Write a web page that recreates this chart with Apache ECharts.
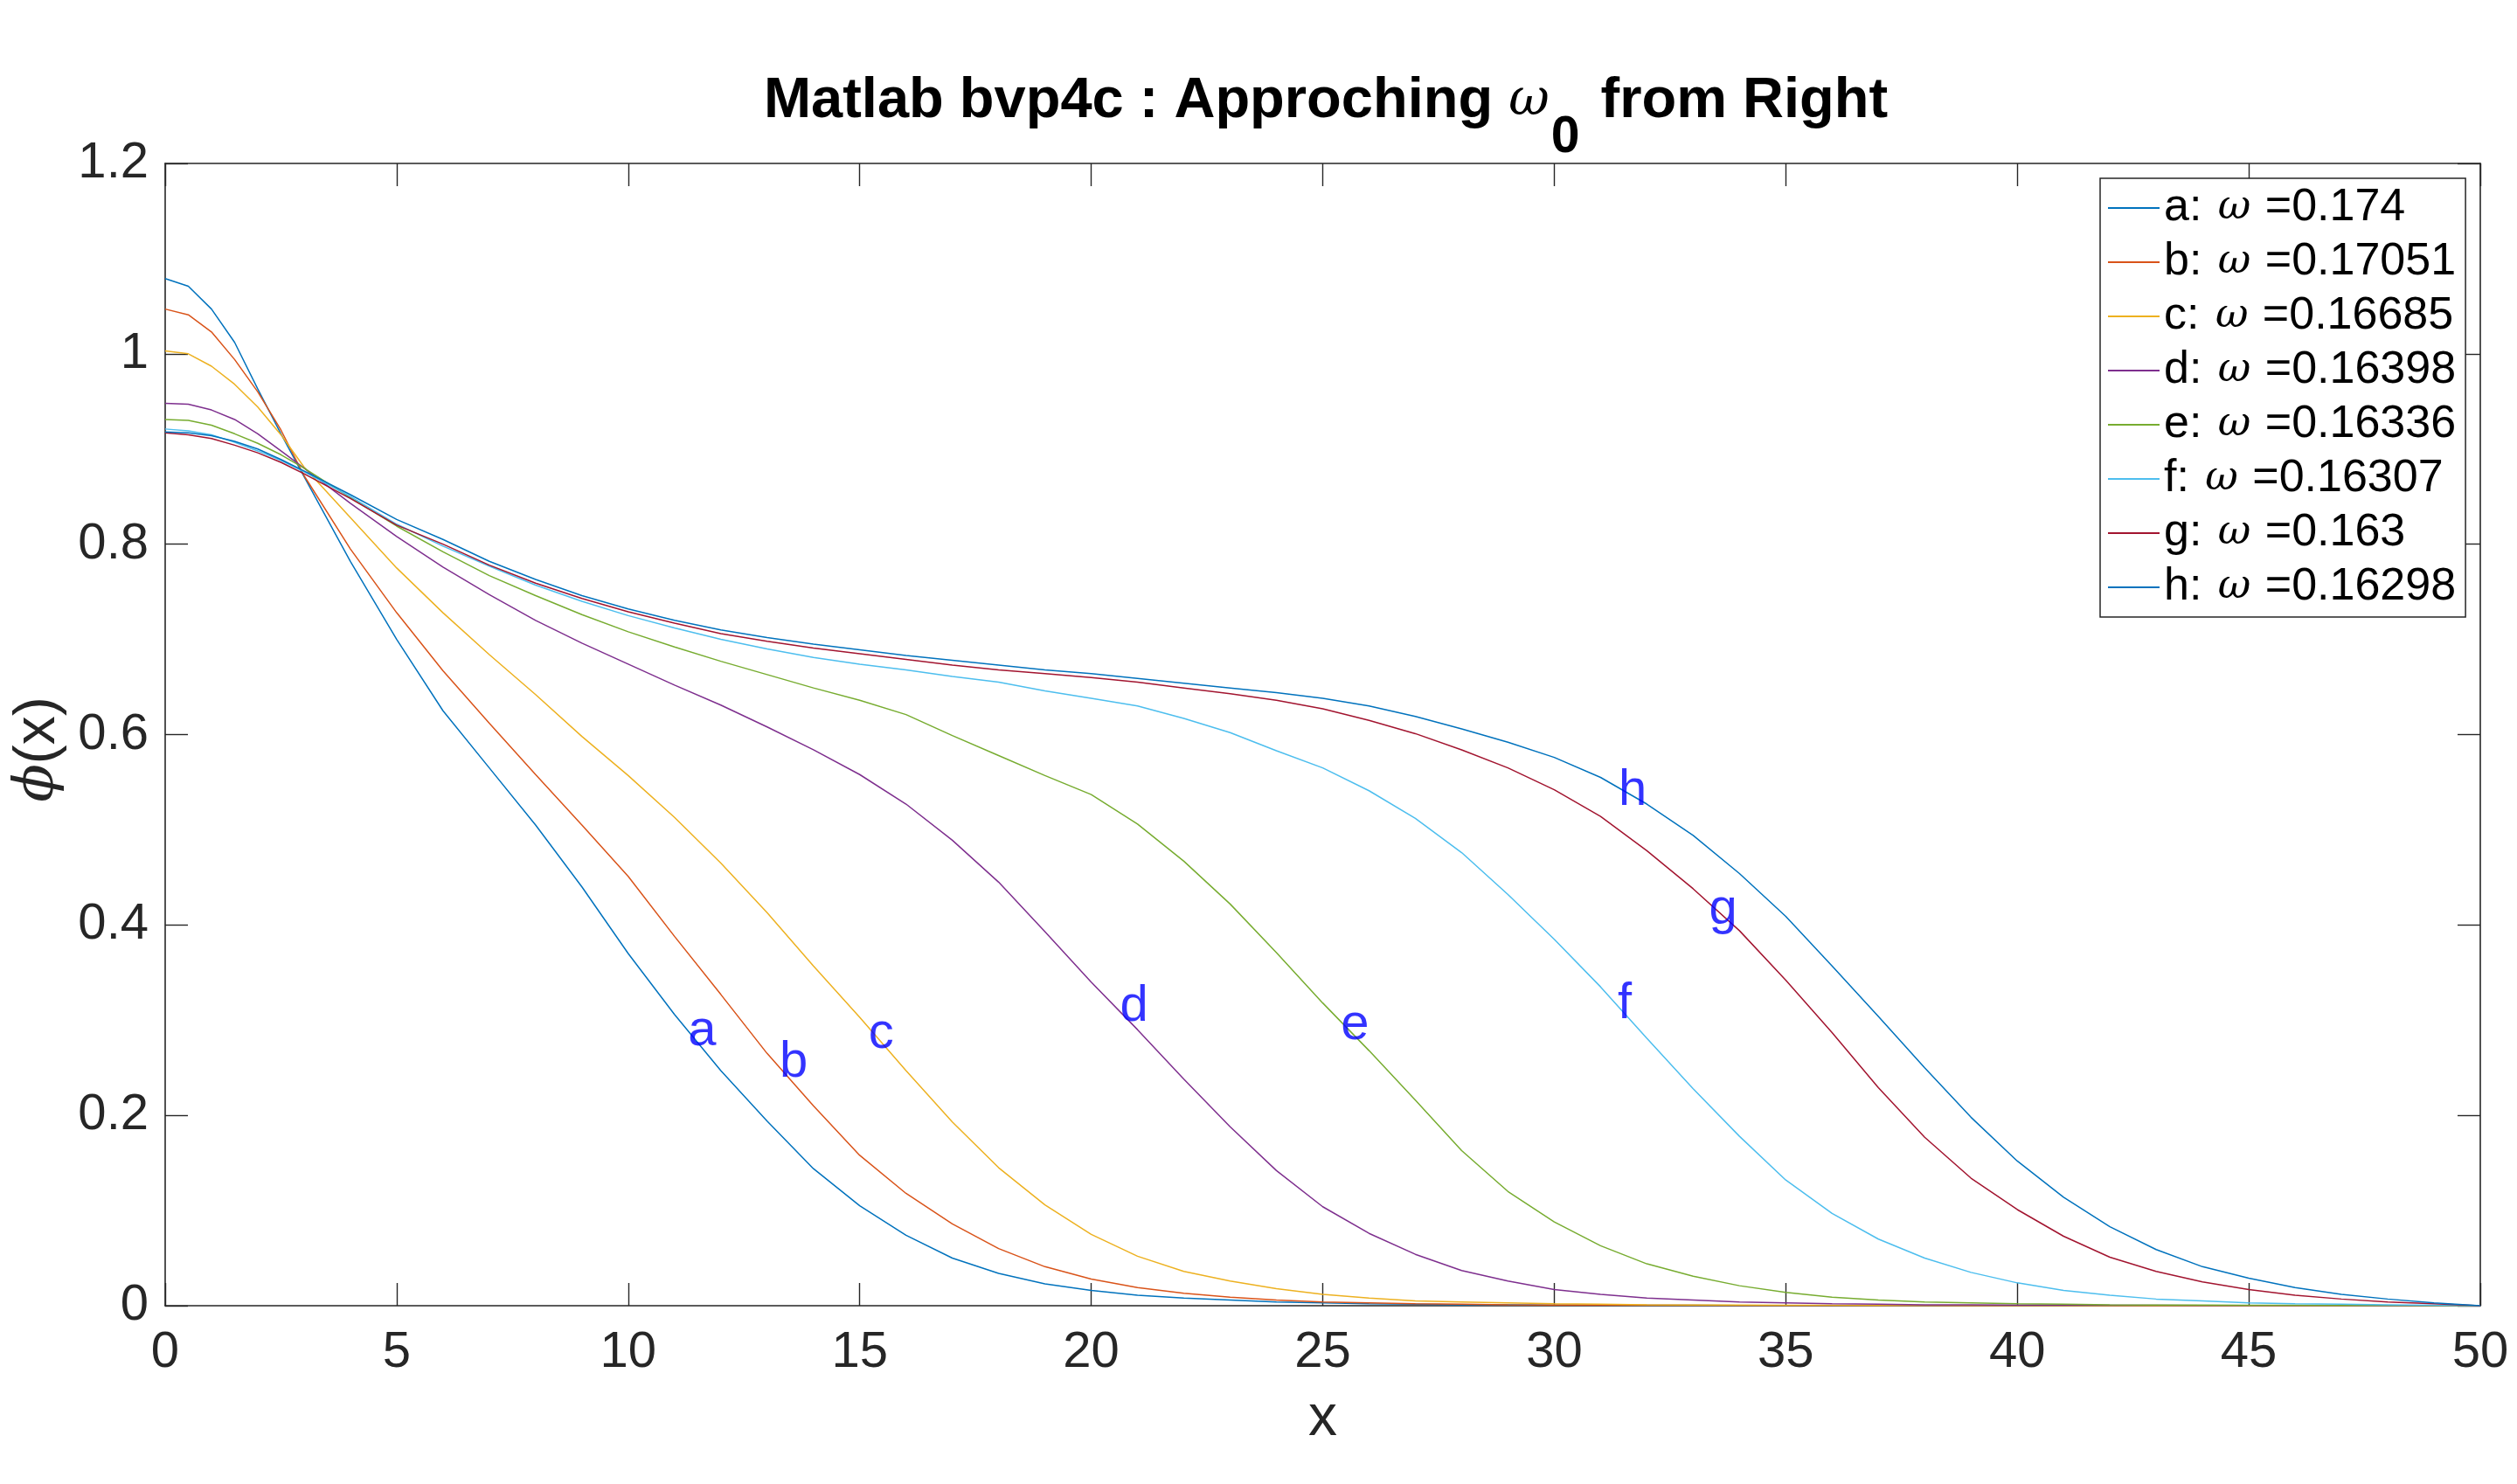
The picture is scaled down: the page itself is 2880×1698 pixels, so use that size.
<!DOCTYPE html>
<html>
<head>
<meta charset="utf-8">
<script src="https://cdn.jsdelivr.net/npm/echarts@6/dist/echarts.min.js"></script>
<style>
html,body{margin:0;padding:0;background:#fff;}
#chart{width:2880px;height:1698px;}
</style>
</head>
<body>
<div id="chart"></div>
<script>
// ---- data ----
const xValues = [0,0.5,1,1.5,2,2.5,3,4,5,6,7,8,9,10,11,12,13,14,15,16,17,18,19,20,21,22,23,24,25,26,27,28,29,30,31,32,33,34,35,36,37,38,39,40,41,42,43,44,45,46,47,48,49,50];

const seriesNames = ['a: ω =0.174','b: ω =0.17051','c: ω =0.16685','d: ω =0.16398','e: ω =0.16336','f: ω =0.16307','g: ω =0.163','h: ω =0.16298'];
const seriesColors = ['#0072BD','#D95319','#EDB120','#7E2F8E','#77AC30','#4DBEEE','#A2142F','#0072BD'];

const phiA = [1.079,1.071,1.047,1.012,0.963,0.916,0.871,
 0.782,0.700,0.625,0.565,0.505,0.440,0.370,0.306,0.247,0.194,
 0.144,0.105,0.074,0.050,0.034,0.023,0.016,0.011,0.008,0.006,
 0.004,0.003,0.002,0.0015,0.001,0.001,0.0008,0.0006,0.0005,0.0004,
 0.0003,0.0003,0.0002,0.0002,0.0002,0.0001,0.0001,0.0001,0.0001,0.0001,
 0.0001,0.0001,0.0001,0.0001,0.0001,0.0001,0];
const phiB = [1.047,1.041,1.023,0.994,0.960,0.920,0.872,
 0.795,0.728,0.667,0.612,0.558,0.505,0.451,0.388,0.327,0.265,
 0.210,0.158,0.118,0.086,0.060,0.041,0.028,0.019,0.013,0.009,
 0.006,0.004,0.003,0.002,0.0015,0.001,0.0008,0.0006,0.0005,0.0004,
 0.0003,0.0003,0.0002,0.0002,0.0002,0.0001,0.0001,0.0001,0.0001,0.0001,
 0.0001,0.0001,0.0001,0.0001,0.0001,0.0001,0];
const phiC = [1.003,1.000,0.987,0.968,0.944,0.915,0.881,
 0.828,0.775,0.728,0.684,0.642,0.598,0.557,0.513,0.465,0.413,
 0.357,0.303,0.247,0.193,0.145,0.106,0.075,0.052,0.036,0.026,
 0.018,0.012,0.008,0.005,0.004,0.003,0.002,0.0015,0.001,0.0008,
 0.0006,0.0005,0.0004,0.0003,0.0003,0.0002,0.0002,0.0002,0.0001,0.0001,
 0.0001,0.0001,0.0001,0.0001,0.0001,0.0001,0];
const phiD = [0.948,0.947,0.941,0.931,0.916,0.898,0.880,
 0.843,0.808,0.776,0.747,0.720,0.696,0.674,0.652,0.631,0.608,
 0.584,0.558,0.527,0.489,0.445,0.393,0.340,0.290,0.238,0.188,
 0.142,0.104,0.076,0.054,0.037,0.026,0.017,0.012,0.008,0.006,
 0.004,0.003,0.002,0.0015,0.001,0.001,0.0008,0.0006,0.0005,0.0004,
 0.0003,0.0003,0.0002,0.0002,0.0001,0.0001,0];
const phiE = [0.931,0.930,0.925,0.916,0.906,0.894,0.880,
 0.849,0.819,0.792,0.767,0.746,0.726,0.708,0.692,0.677,0.663,
 0.649,0.636,0.621,0.599,0.578,0.557,0.537,0.506,0.467,0.422,
 0.371,0.318,0.268,0.216,0.163,0.120,0.088,0.063,0.044,0.031,
 0.021,0.014,0.009,0.006,0.004,0.003,0.002,0.0015,0.001,0.0008,
 0.0006,0.0005,0.0004,0.0003,0.0002,0.0001,0];
const phiF = [0.921,0.919,0.915,0.907,0.898,0.888,0.876,
 0.850,0.821,0.798,0.777,0.757,0.740,0.725,0.712,0.700,0.690,
 0.681,0.674,0.668,0.661,0.655,0.646,0.638,0.630,0.617,0.602,
 0.583,0.565,0.541,0.512,0.476,0.432,0.385,0.335,0.281,0.228,
 0.178,0.132,0.097,0.070,0.050,0.035,0.024,0.016,0.011,0.007,
 0.005,0.003,0.002,0.0015,0.001,0.0005,0];
const phiG = [0.917,0.915,0.911,0.904,0.896,0.886,0.874,
 0.848,0.820,0.800,0.778,0.759,0.743,0.729,0.717,0.706,0.698,
 0.691,0.685,0.679,0.673,0.668,0.664,0.660,0.655,0.649,0.643,
 0.636,0.627,0.615,0.601,0.584,0.565,0.542,0.514,0.478,0.438,
 0.394,0.342,0.287,0.229,0.177,0.134,0.101,0.073,0.051,0.036,
 0.025,0.017,0.011,0.007,0.004,0.002,0];
const phiH = [0.918,0.917,0.914,0.908,0.900,0.889,0.877,
 0.852,0.826,0.805,0.782,0.763,0.746,0.732,0.720,0.710,0.702,
 0.695,0.689,0.683,0.678,0.673,0.668,0.664,0.659,0.654,0.649,
 0.644,0.638,0.630,0.619,0.606,0.592,0.576,0.555,0.527,0.494,
 0.454,0.409,0.357,0.304,0.250,0.198,0.152,0.114,0.083,0.059,
 0.041,0.029,0.019,0.012,0.007,0.003,0];

const curveLetters = ['a','b','c','d','e','f','g','h'];
const letterX = [11.3,13.28,15.2,20.63,25.4,31.38,33.35,31.4];
const letterY = [0.288,0.255,0.285,0.314,0.294,0.316,0.415,0.54];

const xTicks = {min:0, max:50, interval:5};
const yTicks = {min:0, max:1.2, interval:0.2};

// ---- chart ----
const FONT = '"Liberation Sans", Arial, Helvetica, sans-serif';
const SERIF = '"DejaVu Serif", "Liberation Serif", serif';
const AX = '#262626';
const allPhi = [phiA,phiB,phiC,phiD,phiE,phiF,phiG,phiH];

const lineSeries = allPhi.map((arr, k) => ({
  name: seriesNames[k],
  type: 'line',
  xAxisIndex: 0, yAxisIndex: 0,
  data: xValues.map((x, i) => [x, arr[i]]),
  symbol: 'none',
  showSymbol: false,
  lineStyle: {width: 1.5, color: seriesColors[k]},
  itemStyle: {color: seriesColors[k]},
  animation: false,
  z: 2 + k
}));

const labelSeries = {
  name: 'labels',
  type: 'scatter',
  xAxisIndex: 0, yAxisIndex: 0,
  data: curveLetters.map((t, i) => ({value: [letterX[i], letterY[i]], name: t})),
  symbolSize: 1,
  itemStyle: {color: 'rgba(0,0,0,0)'},
  label: {
    show: true,
    position: [0, 0],
    align: 'left',
    verticalAlign: 'middle',
    formatter: p => p.name,
    color: '#0000FF',
    fontSize: 58,
    fontFamily: FONT
  },
  animation: false,
  z: 20
};

function legendFmt(name) {
  const parts = name.split('ω');
  return '{n|' + parts[0] + '}{w|ω}{n|' + parts[1] + '}';
}

const axisCommon = {
  axisLine: {show: true, onZero: false, lineStyle: {color: AX, width: 1.6}},
  axisTick: {show: true, inside: true, length: 26, lineStyle: {color: AX, width: 1.4}},
  splitLine: {show: false}
};

const option = {
  backgroundColor: '#ffffff',
  animation: false,
  title: {
    text: 'Matlab bvp4c : Approching {w|ω}{s|0} from Right',
    left: 1517,
    top: 76,
    textAlign: 'center',
    padding: 0,
    textStyle: {
      fontFamily: FONT, fontWeight: 'bold', fontSize: 65, color: '#000', lineHeight: 80,
      rich: {
        w: {fontFamily: SERIF, fontStyle: 'italic', fontWeight: 'normal', fontSize: 57, lineHeight: 80, color: '#000', padding: [0, 2, 0, 0]},
        s: {fontFamily: FONT, fontWeight: 'bold', fontSize: 59, color: '#000', padding: [83, 6, 0, 0]}
      }
    }
  },
  grid: {left: 189, right: 42, top: 187, bottom: 204, containLabel: false},
  legend: {
    data: seriesNames,
    orient: 'vertical',
    left: 2403,
    top: 204,
    padding: [3, 11, 3, 9],
    itemGap: 0,
    itemWidth: 59,
    itemHeight: 2,
    icon: 'rect',
    backgroundColor: '#ffffff',
    borderColor: AX,
    borderWidth: 1.5,
    formatter: legendFmt,
    textStyle: {
      fontFamily: FONT, fontSize: 52, color: '#000', lineHeight: 62,
      rich: {
        n: {fontFamily: FONT, fontSize: 52, color: '#000', lineHeight: 62},
        w: {fontFamily: SERIF, fontStyle: 'italic', fontSize: 46, color: '#000', lineHeight: 62, padding: [0, 2, 0, 4]}
      }
    },
    z: 30
  },
  xAxis: [
    Object.assign({
      type: 'value', position: 'bottom', min: xTicks.min, max: xTicks.max, interval: xTicks.interval,
      name: 'x', nameLocation: 'middle', nameGap: 97,
      nameTextStyle: {fontFamily: FONT, fontSize: 66, color: AX, lineHeight: 66},
      axisLabel: {show: true, margin: 25, fontFamily: FONT, fontSize: 58, color: AX, lineHeight: 58}
    }, axisCommon),
    Object.assign({
      type: 'value', position: 'top', min: xTicks.min, max: xTicks.max, interval: xTicks.interval,
      axisLabel: {show: false}
    }, axisCommon)
  ],
  yAxis: [
    Object.assign({
      type: 'value', position: 'left', min: yTicks.min, max: yTicks.max, interval: yTicks.interval,
      name: '{p|ϕ}{q|(x)}', nameLocation: 'middle', nameGap: 104, nameRotate: 90,
      nameTextStyle: {fontFamily: FONT, fontSize: 66, color: AX, lineHeight: 70,
        rich: {
          p: {fontFamily: SERIF, fontStyle: 'italic', fontSize: 64, color: AX, lineHeight: 70},
          q: {fontFamily: FONT, fontSize: 66, color: AX, lineHeight: 70, padding: [0, 34, 0, 0]}
        }},
      axisLabel: {show: true, margin: 19, fontFamily: FONT, fontSize: 58, color: AX}
    }, axisCommon),
    Object.assign({
      type: 'value', position: 'right', min: yTicks.min, max: yTicks.max, interval: yTicks.interval,
      axisLabel: {show: false}
    }, axisCommon)
  ],
  series: lineSeries.concat([labelSeries])
};

const chart = echarts.init(document.getElementById('chart'), null, {renderer: 'canvas'});
chart.setOption(option);
</script>
</body>
</html>
